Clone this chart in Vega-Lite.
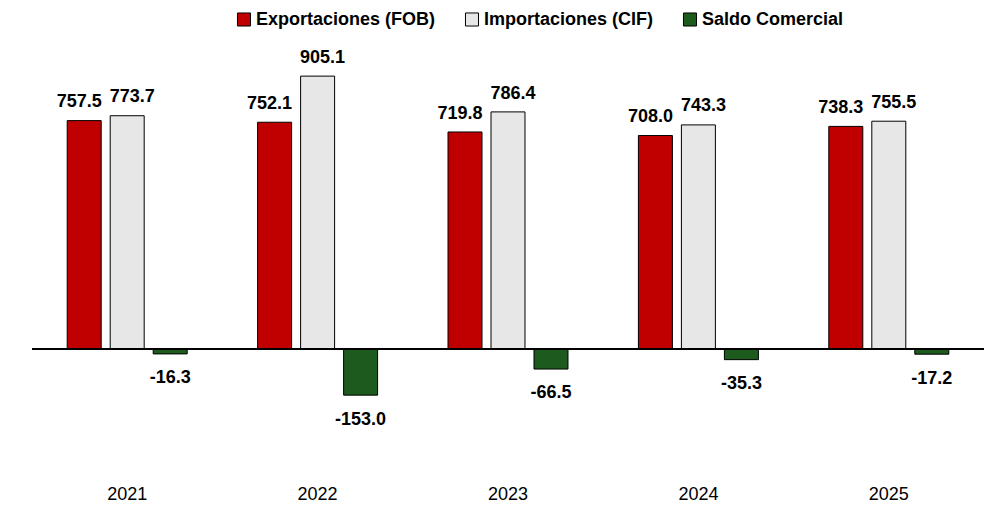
{
  "$schema": "https://vega.github.io/schema/vega-lite/v6.json",
  "autosize": {"type": "none"},
  "padding": {"left": 32, "top": 47.5, "right": 0, "bottom": 42.4},
  "width": 952,
  "height": 422.1,
  "background": "white",
  "config": {
    "view": {"stroke": null},
    "font": "Liberation Sans",
    "locale": {
      "number": {"decimal": ".", "thousands": ",", "grouping": [3], "currency": ["$", ""], "minus": "-"}
    }
  },
  "data": {
    "values": [
      {"anio": "2021", "serie": "Exportaciones (FOB)", "valor": 757.5},
      {"anio": "2021", "serie": "Importaciones (CIF)", "valor": 773.7},
      {"anio": "2021", "serie": "Saldo Comercial", "valor": -16.3},
      {"anio": "2022", "serie": "Exportaciones (FOB)", "valor": 752.1},
      {"anio": "2022", "serie": "Importaciones (CIF)", "valor": 905.1},
      {"anio": "2022", "serie": "Saldo Comercial", "valor": -153.0},
      {"anio": "2023", "serie": "Exportaciones (FOB)", "valor": 719.8},
      {"anio": "2023", "serie": "Importaciones (CIF)", "valor": 786.4},
      {"anio": "2023", "serie": "Saldo Comercial", "valor": -66.5},
      {"anio": "2024", "serie": "Exportaciones (FOB)", "valor": 708.0},
      {"anio": "2024", "serie": "Importaciones (CIF)", "valor": 743.3},
      {"anio": "2024", "serie": "Saldo Comercial", "valor": -35.3},
      {"anio": "2025", "serie": "Exportaciones (FOB)", "valor": 738.3},
      {"anio": "2025", "serie": "Importaciones (CIF)", "valor": 755.5},
      {"anio": "2025", "serie": "Saldo Comercial", "valor": -17.2}
    ]
  },
  "layer": [
    {
      "mark": {"type": "bar", "stroke": "black", "strokeWidth": 1},
      "encoding": {
        "x": {
          "field": "anio", "type": "nominal",
          "scale": {"paddingInner": 0, "paddingOuter": 0},
          "axis": {
            "title": null, "labelAngle": 0, "domain": false, "ticks": false, "tickSize": 0,
            "labelPadding": 16, "labelFontSize": 18, "labelColor": "black",
            "labelFont": "Liberation Sans", "grid": false
          }
        },
        "xOffset": {
          "field": "serie", "type": "nominal",
          "scale": {"paddingInner": 0.2093, "paddingOuter": 0.8187}
        },
        "y": {
          "field": "valor", "type": "quantitative",
          "scale": {"domain": [-400, 1000], "nice": false, "zero": true},
          "axis": null
        },
        "color": {
          "field": "serie", "type": "nominal",
          "scale": {
            "domain": ["Exportaciones (FOB)", "Importaciones (CIF)", "Saldo Comercial"],
            "range": ["#C00000", "#E7E7E7", "#1D5A1E"]
          },
          "legend": {
            "title": null, "orient": "none", "direction": "horizontal",
            "legendX": 203, "legendY": -37,
            "symbolType": "square", "symbolSize": 170,
            "symbolStrokeColor": "black", "symbolStrokeWidth": 1, "symbolOpacity": 1,
            "labelFontSize": 18, "labelFontWeight": "bold", "labelColor": "black",
            "labelFont": "Liberation Sans", "labelOffset": 3, "columnPadding": 27,
            "labelLimit": 400
          }
        }
      }
    },
    {
      "mark": {"type": "rule", "color": "black", "strokeWidth": 1.2},
      "encoding": {"y": {"datum": 0}}
    },
    {
      "transform": [{"filter": "datum.serie == 'Exportaciones (FOB)'"}],
      "mark": {"type": "text", "baseline": "alphabetic", "dy": -13.4, "dx": -5, "fontSize": 18, "fontWeight": "bold", "color": "black", "font": "Liberation Sans"},
      "encoding": {
        "x": {"field": "anio", "type": "nominal"},
        "xOffset": {"field": "serie", "type": "nominal"},
        "y": {"field": "valor", "type": "quantitative"},
        "text": {"field": "valor", "type": "quantitative", "format": ".1f"}
      }
    },
    {
      "transform": [{"filter": "datum.serie == 'Importaciones (CIF)'"}],
      "mark": {"type": "text", "baseline": "alphabetic", "dy": -13.4, "dx": 5, "fontSize": 18, "fontWeight": "bold", "color": "black", "font": "Liberation Sans"},
      "encoding": {
        "x": {"field": "anio", "type": "nominal"},
        "xOffset": {"field": "serie", "type": "nominal"},
        "y": {"field": "valor", "type": "quantitative"},
        "text": {"field": "valor", "type": "quantitative", "format": ".1f"}
      }
    },
    {
      "transform": [{"filter": "datum.serie == 'Saldo Comercial'"}],
      "mark": {"type": "text", "baseline": "alphabetic", "dy": 29.4, "fontSize": 18, "fontWeight": "bold", "color": "black", "font": "Liberation Sans"},
      "encoding": {
        "x": {"field": "anio", "type": "nominal"},
        "xOffset": {"field": "serie", "type": "nominal"},
        "y": {"field": "valor", "type": "quantitative"},
        "text": {"field": "valor", "type": "quantitative", "format": ".1f"}
      }
    }
  ]
}
